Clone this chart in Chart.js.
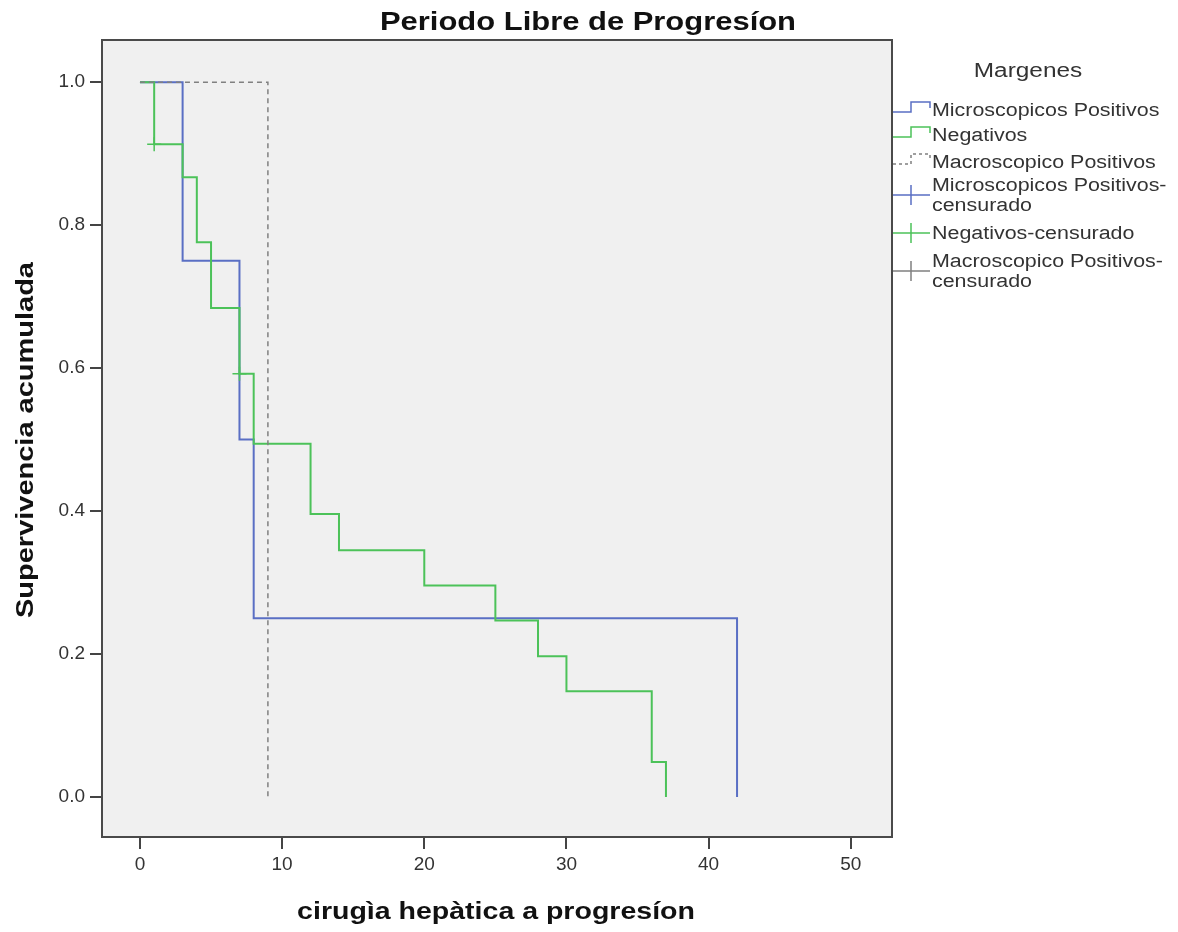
<!DOCTYPE html>
<html>
<head>
<meta charset="utf-8">
<script src="https://cdn.jsdelivr.net/npm/chart.js@4/dist/chart.umd.min.js"></script>
<style>
  html, body { margin: 0; padding: 0; background: #ffffff; }
  #wrap { width: 1178px; height: 932px; }
</style>
</head>
<body>
<div id="wrap"><canvas id="km"></canvas></div>
<script>
// survival steps
const microTimes = [0, 3, 7, 8, 42];
const microSurv = [1, 0.75, 0.5, 0.25, 0];
const negTimes = [0, 1, 3, 4, 5, 7, 8, 12, 14, 20, 25, 28, 30, 36, 37];
const negSurv = [1, 0.913, 0.867, 0.776, 0.684, 0.592, 0.494, 0.396, 0.345, 0.296, 0.247, 0.197, 0.148, 0.049, 0];
const macroTimes = [0, 9];
const macroSurv = [1, 0];
const negCensTimes = [1, 7];
const negCensSurv = [0.913, 0.592];
const xTicks = [0, 10, 20, 30, 40, 50];
const yTicks = [0, 0.2, 0.4, 0.6, 0.8, 1.0];

const titleText = 'Periodo Libre de Progresíon';
const xTitle = 'cirugìa hepàtica a progresíon';
const yTitle = 'Supervivencia acumulada';
const legendTitle = 'Margenes';

const BLUE = '#5a6fc4';
const GREEN = '#4cc259';
const GREY = '#808080';

const legendItems = [
    {label: ['Microscopicos Positivos'], color: BLUE, kind: 'step'},
    {label: ['Negativos'], color: GREEN, kind: 'step'},
    {label: ['Macroscopico Positivos'], color: GREY, kind: 'dash'},
    {label: ['Microscopicos Positivos-', 'censurado'], color: BLUE, kind: 'cens'},
    {label: ['Negativos-censurado'], color: GREEN, kind: 'cens'},
    {label: ['Macroscopico Positivos-', 'censurado'], color: GREY, kind: 'cens'}
];

const FONT = '"Liberation Sans", Arial, sans-serif';
const NARROW = '"Liberation Sans Narrow", "Liberation Sans", sans-serif';

function toPoints(ts, ss) {
    return ts.map((t, i) => ({x: t, y: ss[i]}));
}

// text with a little horizontal stretch, the original output is wider than Arial
function stretchedText(ctx, text, x, y, font, sx, align, angle) {
    ctx.save();
    ctx.translate(x, y);
    if (angle) ctx.rotate(angle);
    ctx.scale(sx, 1);
    ctx.font = font;
    ctx.textAlign = align;
    ctx.textBaseline = 'alphabetic';
    ctx.fillText(text, 0, 0);
    ctx.restore();
}

const frameAndLegend = {
    id: 'frameAndLegend',
    beforeDraw(chart) {
        const {ctx, chartArea: a} = chart;
        ctx.save();
        ctx.fillStyle = '#f0f0f0';
        ctx.fillRect(a.left, a.top, a.right - a.left, a.bottom - a.top);
        ctx.restore();
    },
    afterDraw(chart) {
        const {ctx, chartArea: a} = chart;
        ctx.save();
        ctx.strokeStyle = '#4a4a4a';
        ctx.lineWidth = 2;
        ctx.strokeRect(a.left, a.top, a.right - a.left, a.bottom - a.top);

        // titles
        ctx.fillStyle = '#111111';
        stretchedText(ctx, titleText, 588, 30, 'bold 26px ' + FONT, 1.19, 'center');
        stretchedText(ctx, xTitle, 496, 919, 'bold 23px ' + FONT, 1.24, 'center');
        stretchedText(ctx, yTitle, 33, 440, 'bold 23px ' + FONT, 1.26, 'center', -Math.PI / 2);

        // legend
        ctx.fillStyle = '#333333';
        stretchedText(ctx, legendTitle, 1028, 77, '20px ' + FONT, 1.22, 'center');

        const rows = [110, 135, 162, 185, 233, 261];
        legendItems.forEach((it, i) => {
            const y = rows[i];
            ctx.strokeStyle = it.color;
            ctx.lineWidth = 1.5;
            ctx.setLineDash(it.kind === 'dash' ? [3, 3] : []);
            ctx.beginPath();
            if (it.kind === 'cens') {
                const cy = it.label.length > 1 ? y + 10 : y;
                ctx.moveTo(893, cy);
                ctx.lineTo(930, cy);
                ctx.moveTo(911, cy - 10);
                ctx.lineTo(911, cy + 10);
            } else {
                ctx.moveTo(893, y + 2);
                ctx.lineTo(911, y + 2);
                ctx.lineTo(911, y - 8);
                ctx.lineTo(930, y - 8);
                ctx.lineTo(930, y - 2);
            }
            ctx.stroke();
            ctx.setLineDash([]);
            ctx.fillStyle = '#333333';
            it.label.forEach((line, j) => {
                stretchedText(ctx, line, 932, y + 6 + j * 20, '18px ' + FONT, 1.19, 'left');
            });
        });
        ctx.restore();
    }
};

new Chart(document.getElementById('km').getContext('2d'), {
    type: 'line',
    data: {
        datasets: [
            {label: 'Macroscopico Positivos', data: toPoints(macroTimes, macroSurv), stepped: true, borderColor: GREY, borderWidth: 1.5, borderDash: [5, 4], pointRadius: 0, fill: false},
            {label: 'Negativos-censurado', data: toPoints(negCensTimes, negCensSurv), showLine: false, pointStyle: 'cross', pointRadius: 7, borderColor: GREEN, borderWidth: 1.5},
            {label: 'Negativos', data: toPoints(negTimes, negSurv), stepped: true, borderColor: GREEN, borderWidth: 2, pointRadius: 0, fill: false},
            {label: 'Microscopicos Positivos', data: toPoints(microTimes, microSurv), stepped: true, borderColor: BLUE, borderWidth: 2, pointRadius: 0, fill: false}
        ]
    },
    options: {
        responsive: true,
        maintainAspectRatio: false,
        animation: false,
        layout: {padding: {left: 0, right: 286, top: 40, bottom: 0}},
        plugins: {
            legend: {display: false},
            tooltip: {enabled: false},
            title: {display: false}
        },
        scales: {
            x: {
                type: 'linear',
                min: -2.67,
                max: 52.9,
                afterBuildTicks: (s) => { s.ticks = xTicks.map(v => ({value: v})); },
                afterFit: (s) => { s.height = 932 - 837; },
                grid: {drawOnChartArea: false, drawTicks: true, tickLength: 12, color: '#444444', lineWidth: 2},
                border: {display: false},
                ticks: {color: '#333333', padding: 4, font: {family: NARROW, size: 19}},
                title: {display: false}
            },
            y: {
                type: 'linear',
                min: -0.056,
                max: 1.059,
                afterBuildTicks: (s) => { s.ticks = yTicks.map(v => ({value: v})); },
                afterFit: (s) => { s.width = 102; },
                grid: {drawOnChartArea: false, drawTicks: true, tickLength: 12, color: '#444444', lineWidth: 2},
                border: {display: false},
                ticks: {color: '#333333', padding: 5, callback: (v) => Number(v).toFixed(1), font: {family: NARROW, size: 19}},
                title: {display: false}
            }
        }
    },
    plugins: [frameAndLegend]
});
</script>
</body>
</html>
